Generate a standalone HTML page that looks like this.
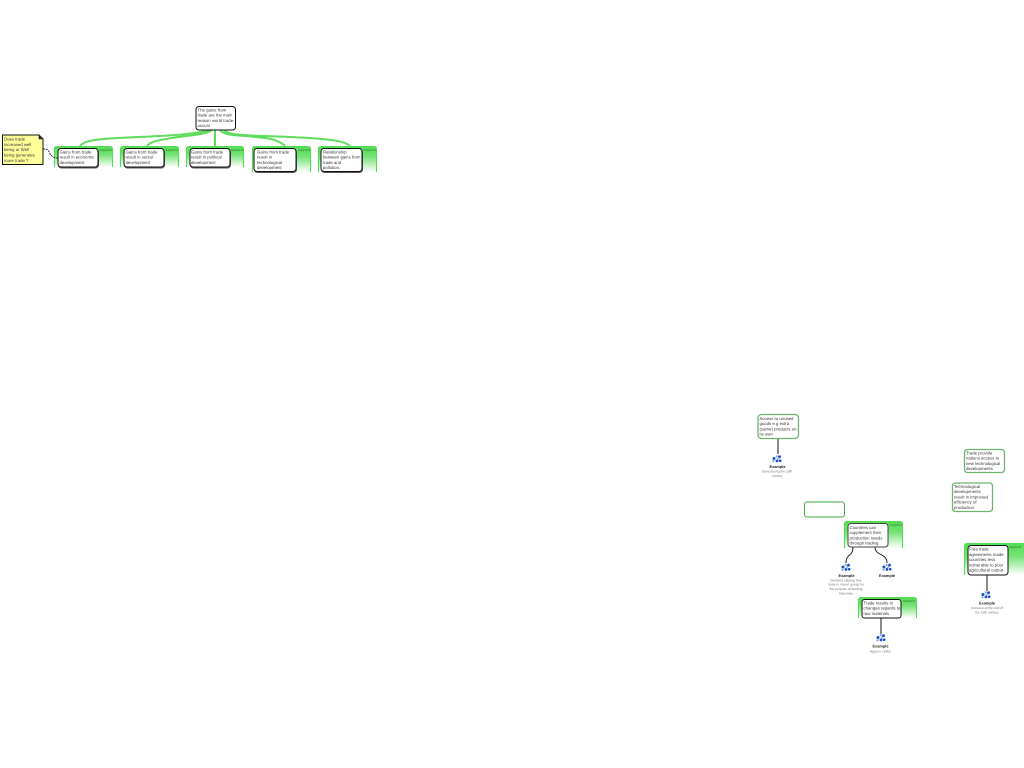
<!DOCTYPE html>
<html><head><meta charset="utf-8"><style>
html,body{margin:0;padding:0;background:#fff;width:1024px;height:768px;overflow:hidden}
svg{display:block}
text{font-family:"Liberation Sans",sans-serif;font-size:4.3px;fill:#3a3a3a;text-rendering:geometricPrecision}
.s{font-size:3.2px;fill:#2a7a2a}
.b{font-size:3.9px;font-weight:bold;fill:#222;text-anchor:middle}
.g{font-size:3.3px;fill:#777;text-anchor:middle}
.n{fill:#fff;stroke:#111;stroke-width:1}
.sh{fill:#fff;stroke:#555;stroke-width:1}
.c{fill:none;stroke:#5ddc5d;stroke-width:2}
.e{fill:#fff;stroke:#6fb56f;stroke-width:1.3}
.p{fill:url(#gr);stroke:#55dc55;stroke-width:1.1}
</style></head><body>
<svg width="1024" height="768" viewBox="0 0 1024 768" xmlns="http://www.w3.org/2000/svg">
<defs>
<linearGradient id="gr" x1="0" y1="0" x2="0" y2="1"><stop offset="0" stop-color="#55dc55"/><stop offset="0.4" stop-color="#75e275"/><stop offset="1" stop-color="#fff"/></linearGradient>
<g id="ic" fill="#1a4fc0"><circle cx="-3" cy="-0.500" r="1.500"/><circle cx="2.500" cy="-2.300" r="1.400"/><circle cx="0" cy="1.900" r="1.400"/><circle cx="3.200" cy="1.700" r="1.300"/><circle cx="-3.500" cy="2.300" r="1.100" fill="#7fa5e8"/><circle cx="-0.300" cy="-2.600" r="1.100" fill="#7fa5e8"/><circle cx="1" cy="-0.300" r=".9" fill="#7fa5e8"/></g>
</defs>

<!-- top connectors -->
<path class="c" d="M80 146C84 141 92 140 110 138.500C150 136 190 136 209 130"/>
<path class="c" d="M147 146C151 141 160 140 175 137.500C190 135 205 135 212 130"/>
<path class="c" d="M215 130V146"/>
<path class="c" d="M220 130C224 136 240 135 255 137C272 138 280 141 285 146"/>
<path class="c" d="M224 130C230 137 260 135 300 137.500C330 139 345 141 350 146"/>

<!-- panels -->
<path class="p" d="M54.500 167V149Q54.500 146.500 57 146.500H110Q112.500 146.500 112.500 149V167"/>
<path class="p" d="M120.500 167V149Q120.500 146.500 123 146.500H176Q178.500 146.500 178.500 149V167"/>
<path class="p" d="M186.500 167V149Q186.500 146.500 189 146.500H241Q243.500 146.500 243.500 149V167"/>
<path class="p" d="M252.500 172V149Q252.500 146.500 255 146.500H308Q310.500 146.500 310.500 149V172"/>
<path class="p" d="M318.500 172V149Q318.500 146.500 321 146.500H374Q376.500 146.500 376.500 149V172"/>
<path class="p" d="M844.500 548V524Q844.500 521.500 847 521.500H900Q902.500 521.500 902.500 524V548"/>
<path class="p" d="M858.500 618V600Q858.500 597.500 861 597.500H914Q916.500 597.500 916.500 600V618"/>
<path class="p" d="M964.500 575V546Q964.500 543.500 967 543.500H1025V575"/>
<text class="s" x="99.500" y="151">supports</text>
<text class="s" x="165.500" y="151">supports</text>
<text class="s" x="231" y="151">supports</text>
<text class="s" x="298" y="151">supports</text>
<text class="s" x="363.500" y="151">supports</text>
<text class="s" x="889.500" y="526">supports</text>
<text class="s" x="903" y="602">supports</text>
<text class="s" x="1009" y="548">supports</text>

<!-- top node -->
<rect class="n" x="196" y="106.500" width="39.500" height="23.500" rx="3"/>
<text x="197.500" y="111.500">The gains from</text>
<text x="197.500" y="116.500">trade are the main</text>
<text x="197.500" y="122">reason world trade</text>
<text x="197.500" y="127">occurs</text>

<!-- row nodes -->
<rect class="sh" x="58.500" y="149.500" width="40" height="18.500" rx="3"/>
<rect class="n" x="58" y="148.500" width="40" height="18.500" rx="3"/>
<text x="59.500" y="153.500">Gains from trade</text><text x="59.500" y="158.500">result in economic</text><text x="59.500" y="164">development</text>

<rect class="sh" x="124.500" y="149.500" width="40" height="18.500" rx="3"/>
<rect class="n" x="124" y="148.500" width="40" height="18.500" rx="3"/>
<text x="125.500" y="153.500">Gains from trade</text><text x="125.500" y="158.500">result in social</text><text x="125.500" y="164">development</text>

<rect class="sh" x="190.500" y="149.500" width="40" height="18.500" rx="3"/>
<rect class="n" x="190" y="148.500" width="40" height="18.500" rx="3"/>
<text x="191" y="153.500">Gains from trade</text><text x="191" y="158.500">result in political</text><text x="191" y="164">development</text>

<rect class="sh" x="254.500" y="149.500" width="42" height="23" rx="3"/>
<rect class="n" x="254" y="148.500" width="42" height="23" rx="3"/>
<text x="257" y="153.500">Gains from trade</text><text x="257" y="158.500">result in</text><text x="257" y="164">technological</text><text x="257" y="169">development</text>

<rect class="sh" x="321.500" y="149.500" width="41" height="23" rx="3"/>
<rect class="n" x="321" y="148.500" width="41" height="23" rx="3"/>
<text x="323" y="153.500">Relationship</text><text x="323" y="158.500">between gains from</text><text x="323" y="164">trade and</text><text x="323" y="169">pollution.</text>

<!-- note -->
<path d="M2.500 135H39L43 139V164.500H2.500Z" fill="#ffff99" stroke="#111" stroke-width="1"/>
<path d="M39 135V139H43" fill="#333" stroke="#111" stroke-width=".6"/>
<text x="4" y="140.500">Does trade</text><text x="4" y="146">increased well</text><text x="4" y="151">being or Well</text><text x="4" y="156.500">being generates</text><text x="4" y="162">more trade ?</text>
<path d="M43 149C52 148 47 158 58 158" fill="none" stroke="#111" stroke-width=".8" stroke-dasharray="2 .8"/>

<!-- access node -->
<path d="M778 438V454" stroke="#555" stroke-width="1.400"/>
<rect class="e" x="758" y="414.500" width="40.500" height="24" rx="3.500"/>
<text x="759.500" y="420">Access to unused</text><text x="759.500" y="425">goods e.g extra</text><text x="759.500" y="430.500">(same) products on</text><text x="759.500" y="435.500">its own</text>
<use href="#ic" x="777" y="459"/>
<text class="b" x="777.500" y="468">Example</text>
<text class="g" x="777" y="472.500">Goes during the 19th</text><text class="g" x="777" y="477">century</text>

<!-- empty box -->
<rect x="804.500" y="502" width="40" height="15" rx="2.500" fill="#fff" stroke="#3fa83f" stroke-width="1"/>

<!-- countries node -->
<path d="M853 547C853 557 846 553 846 563M875 547C875 556 887 553 887 563" fill="none" stroke="#222" stroke-width="1"/>
<rect class="n" x="848" y="523.500" width="40" height="23.500" rx="3" style="stroke:#444"/>
<text x="849.500" y="529">Countries can</text><text x="849.500" y="534">supplement their</text><text x="849.500" y="539.500">production needs</text><text x="849.500" y="544.500">through trading</text>
<use href="#ic" x="846" y="567.500"/><use href="#ic" x="887" y="567.500"/>
<text class="b" x="846.500" y="577">Example</text><text class="b" x="887" y="577">Example</text>
<text class="g" x="846" y="581.500">Demand utilizing free</text><text class="g" x="846" y="585.500">trade to import goods for</text><text class="g" x="846" y="590">the purpose of feeding</text><text class="g" x="846" y="594.500">industries</text>

<!-- trade node -->
<path d="M881 618V634" stroke="#555" stroke-width="1.400"/>
<rect class="n" x="862" y="599.500" width="39" height="18.500" rx="2.500"/>
<text x="863.500" y="604.500">Trade results in</text><text x="863.500" y="609.500">changes regards to</text><text x="863.500" y="615">raw materials</text>
<use href="#ic" x="881" y="638"/>
<text class="b" x="880.500" y="647.500">Example</text>
<text class="g" x="880.500" y="652.500">Apps in 1890s</text>

<!-- right nodes -->
<rect class="e" x="964.500" y="449.500" width="40" height="23" rx="3"/>
<text x="966" y="454.500">Trade provide</text><text x="966" y="459.500">nations access to</text><text x="966" y="465">new technological</text><text x="966" y="470">developments</text>

<rect class="e" x="952.500" y="483" width="40" height="28.500" rx="3"/>
<text x="954" y="488">Technological</text><text x="954" y="493">developments</text><text x="954" y="498.500">result in improved</text><text x="954" y="503.500">efficiency of</text><text x="954" y="509">production</text>

<path d="M987 575V591" stroke="#555" stroke-width="1.400"/>
<rect class="n" x="968" y="545.500" width="40" height="29.500" rx="3"/>
<text x="969" y="550.500">Free trade</text><text x="969" y="556">agreements made</text><text x="969" y="561">countries less</text><text x="969" y="566.500">vulnerable to poor</text><text x="969" y="571.500">agricultural output</text>
<use href="#ic" x="986" y="595"/>
<text class="b" x="987" y="604.500">Example</text>
<text class="g" x="987" y="609">Increase at the end of</text><text class="g" x="987" y="613.500">the 18th century</text>
</svg>
</body></html>
